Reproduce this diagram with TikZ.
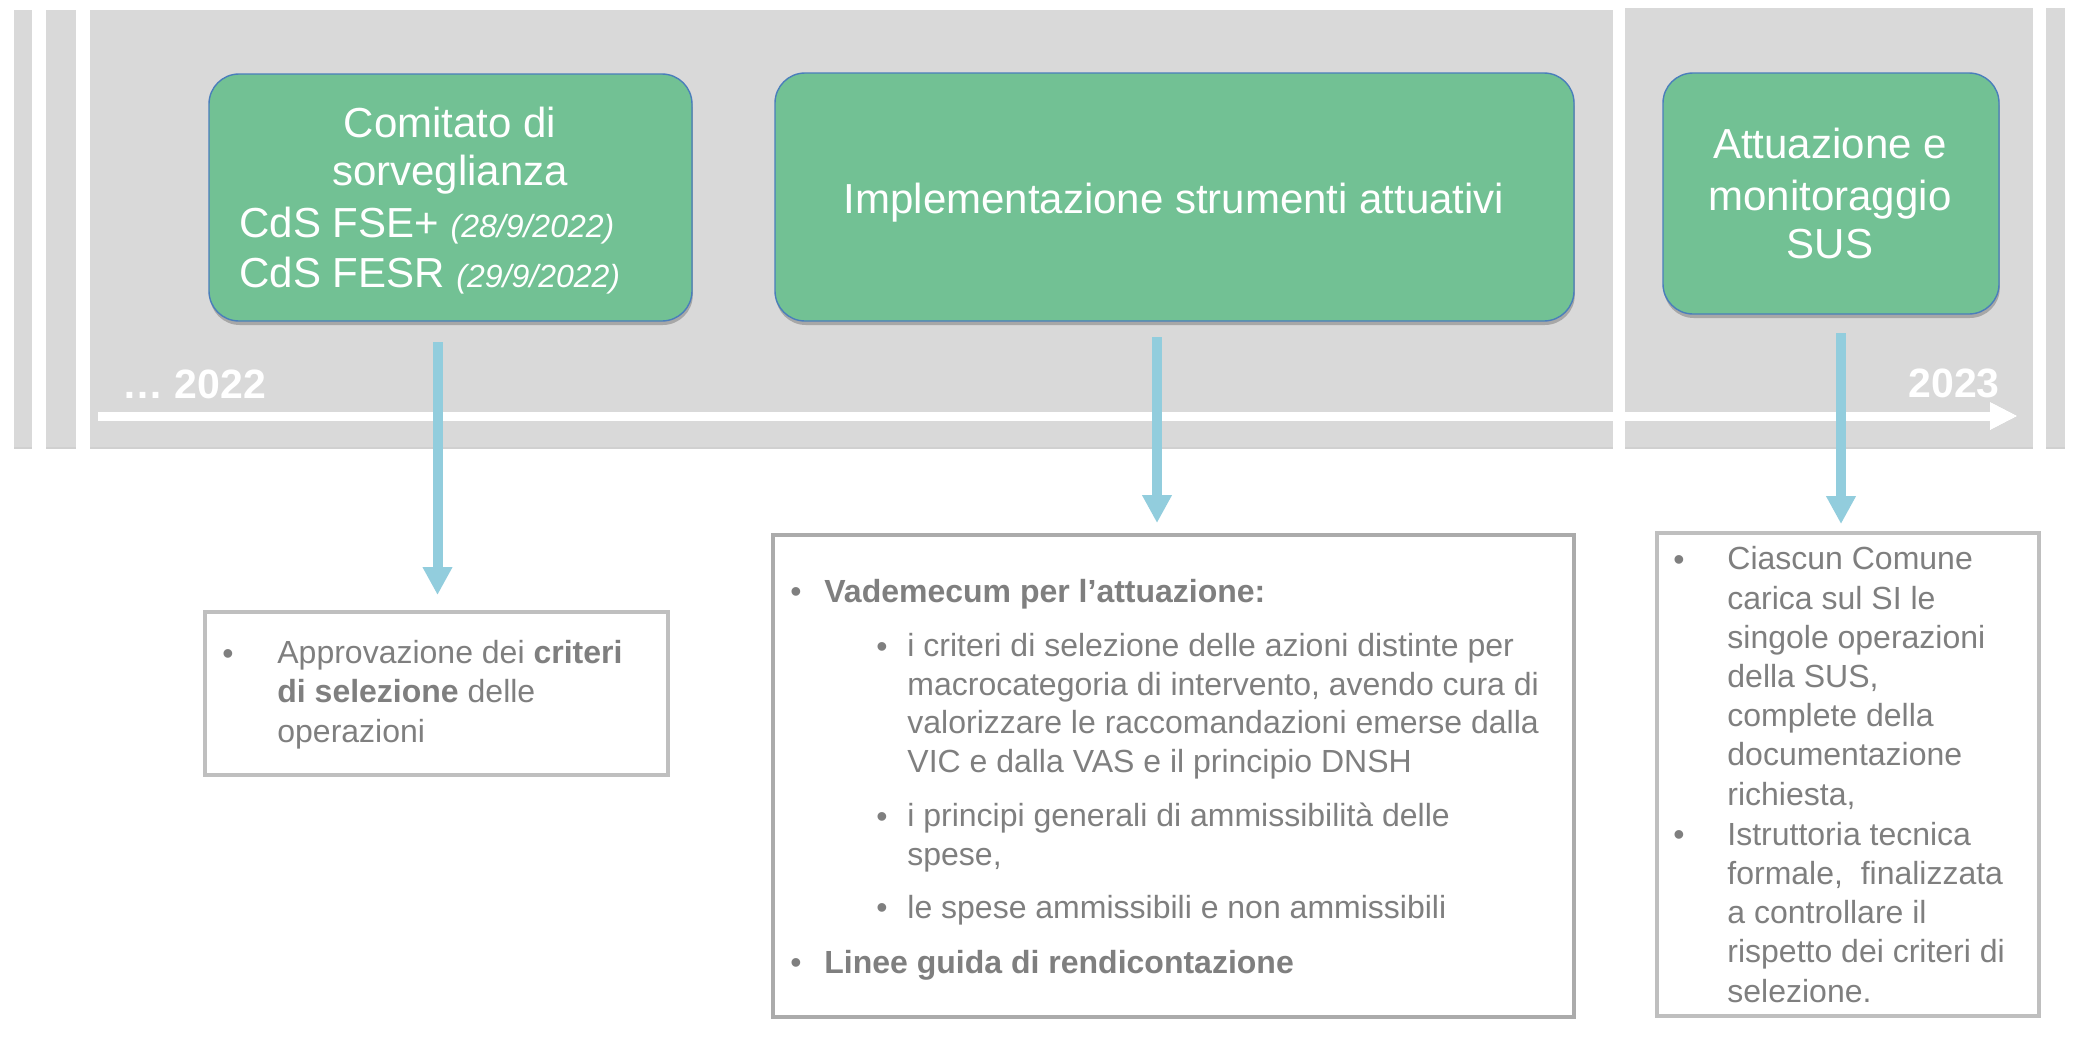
\documentclass[tikz,border=0pt]{standalone}
\usepackage{fontspec}
\setmainfont{Liberation Sans}
\usetikzlibrary{arrows.meta,shadows}
\definecolor{panelgray}{HTML}{D9D9D9}
\definecolor{boxgreen}{HTML}{72C194}
\definecolor{boxedge}{HTML}{4A7EBB}
\definecolor{arrowblue}{HTML}{92CDDD}
\definecolor{txtgray}{HTML}{7F7F7F}
\definecolor{frameA}{HTML}{BFBFBF}
\definecolor{frameB}{HTML}{ABABAB}
\begin{document}
\begin{tikzpicture}[x=0.5pt,y=-0.5pt,
  panel/.style={fill=panelgray, draw=none, drop shadow={shadow xshift=0pt, shadow yshift=-1.2pt, opacity=0.3, fill=black!60}},
  greenbox/.style={fill=boxgreen, draw=boxedge, line width=0.7pt, rounded corners=15pt, inner sep=0pt,
     drop shadow={shadow xshift=0.4pt, shadow yshift=-2pt, opacity=0.35, fill=black!70}},
  infobox/.style={draw=frameA, line width=2pt, fill=white, inner sep=0pt},
  title/.style={text=white, font=\fontsize{21}{25}\selectfont, inner sep=0pt},
  year/.style={text=white, font=\fontsize{20.5}{24}\selectfont\bfseries, inner sep=0pt},
  bodytxt/.style={text=txtgray, font=\fontsize{16}{19.6}\selectfont, align=left, inner sep=0pt, anchor=base west},
  bodytxtB/.style={text=txtgray, font=\fontsize{16}{19.2}\selectfont, align=left, inner sep=0pt, anchor=base west},
  bul/.style={text=txtgray, font=\fontsize{16}{19.6}\selectfont, inner sep=0pt, anchor=base},
  bluearrow/.style={draw=arrowblue, line width=5pt, -{Triangle[length=14pt,width=14pt]}},
  timeline/.style={draw=white, line width=4.5pt, -{Triangle[length=14pt,width=13pt]}}
]
\useasboundingbox[fill=white] (0,0) rectangle (2082,1049);

% background panels
\path[panel] (14,10) rectangle (32,447);
\path[panel] (46,10) rectangle (76,447);
\path[panel] (90,10) rectangle (1613,447);
\path[panel] (1625,8) rectangle (2033,447);
\path[panel] (2046,8) rectangle (2065,447);

% timeline
\coordinate (tl0) at (98,416);
\coordinate (tl1) at (2018,416);
\draw[timeline, draw=black!45, opacity=0.45, yshift=-1.6pt] (tl0) -- (tl1);
\draw[timeline] (tl0) -- (tl1);
\node[year, anchor=base west] (y22) at (122,398) {… 2022};
\node[year, anchor=base east] (y23) at (2000,397) {2023};

% green phase boxes
\node[greenbox, minimum width=241.5pt, minimum height=123.5pt] (g1) at (450.5,197.5) {};
\node[greenbox, minimum width=399.5pt, minimum height=124pt] (g2) at (1174.5,197) {};
\node[greenbox, minimum width=168pt, minimum height=120.5pt] (g3) at (1831,193.5) {};

\node[title, anchor=base] (t1a) at (450,137) {Comitato di};
\node[title, anchor=base] (t1b) at (450,185) {sorveglianza};
\node[title, anchor=base west] (t1c) at (239,237) {CdS FSE+ {\fontsize{16}{19}\selectfont\itshape (28/9/2022)}};
\node[title, anchor=base west] (t1d) at (239,287) {CdS FESR {\fontsize{16}{19}\selectfont\itshape (29/9/2022)}};
\node[title, anchor=base] (t2) at (1174,213) {Implementazione strumenti attuativi};
\node[title, anchor=base] (t3a) at (1830,158) {Attuazione e};
\node[title, anchor=base] (t3b) at (1830,210) {monitoraggio};
\node[title, anchor=base] (t3c) at (1830,258) {SUS};

% info boxes
\node[infobox, minimum width=231.5pt, minimum height=81.5pt] (bA) at (436.5,693.5) {};
\node[infobox, draw=frameB, minimum width=400.5pt, minimum height=241pt] (bB) at (1173.5,776) {};
\node[infobox, minimum width=191pt, minimum height=241.5pt] (bC) at (1848,774.5) {};

% blue arrows
\coordinate (a1s) at (437.5,342);
\coordinate (a1e) at (437.5,595);
\coordinate (a2s) at (1157,337);
\coordinate (a2e) at (1157,523);
\coordinate (a3s) at (1841,333);
\coordinate (a3e) at (1841,524);
\draw[bluearrow] (a1s) -- (a1e);
\draw[bluearrow] (a2s) -- (a2e);
\draw[bluearrow] (a3s) -- (a3e);

% box A text (anchor = baseline of last line)
\node[bul] (bA1) at (228,664) {•};
\node[bodytxt] (tA1) at (277,742) {Approvazione dei \textbf{criteri}\\\textbf{di selezione} delle\\operazioni};

% box B text
\node[bul] (bB1) at (796,602) {•};
\node[bodytxtB, font=\fontsize{16}{19.2}\selectfont\bfseries] (tB1) at (824,602) {Vademecum per l’attuazione:};
\node[bul] (bB2) at (882,657) {•};
\node[bodytxtB] (tB2) at (907,772) {i criteri di selezione delle azioni distinte per\\macrocategoria di intervento, avendo cura di\\valorizzare le raccomandazioni emerse dalla\\VIC e dalla VAS e il principio DNSH};
\node[bul] (bB3) at (882,827) {•};
\node[bodytxtB] (tB3) at (907,865) {i principi generali di ammissibilità delle\\spese,};
\node[bul] (bB4) at (882,918) {•};
\node[bodytxtB] (tB4) at (907,918) {le spese ammissibili e non ammissibili};
\node[bul] (bB5) at (796,973) {•};
\node[bodytxtB, font=\fontsize{16}{19.2}\selectfont\bfseries] (tB5) at (824,973) {Linee guida di rendicontazione};

% box C text
\node[bul] (bC1) at (1679,570) {•};
\node[bodytxt] (tC1) at (1727,805) {Ciascun Comune\\carica sul SI le\\singole operazioni\\della SUS,\\complete della\\documentazione\\richiesta,};
\node[bul] (bC2) at (1679,845) {•};
\node[bodytxt] (tC2) at (1727,1002) {Istruttoria tecnica\\formale,~ finalizzata\\a controllare il\\rispetto dei criteri di\\selezione.};
\end{tikzpicture}
\end{document}
